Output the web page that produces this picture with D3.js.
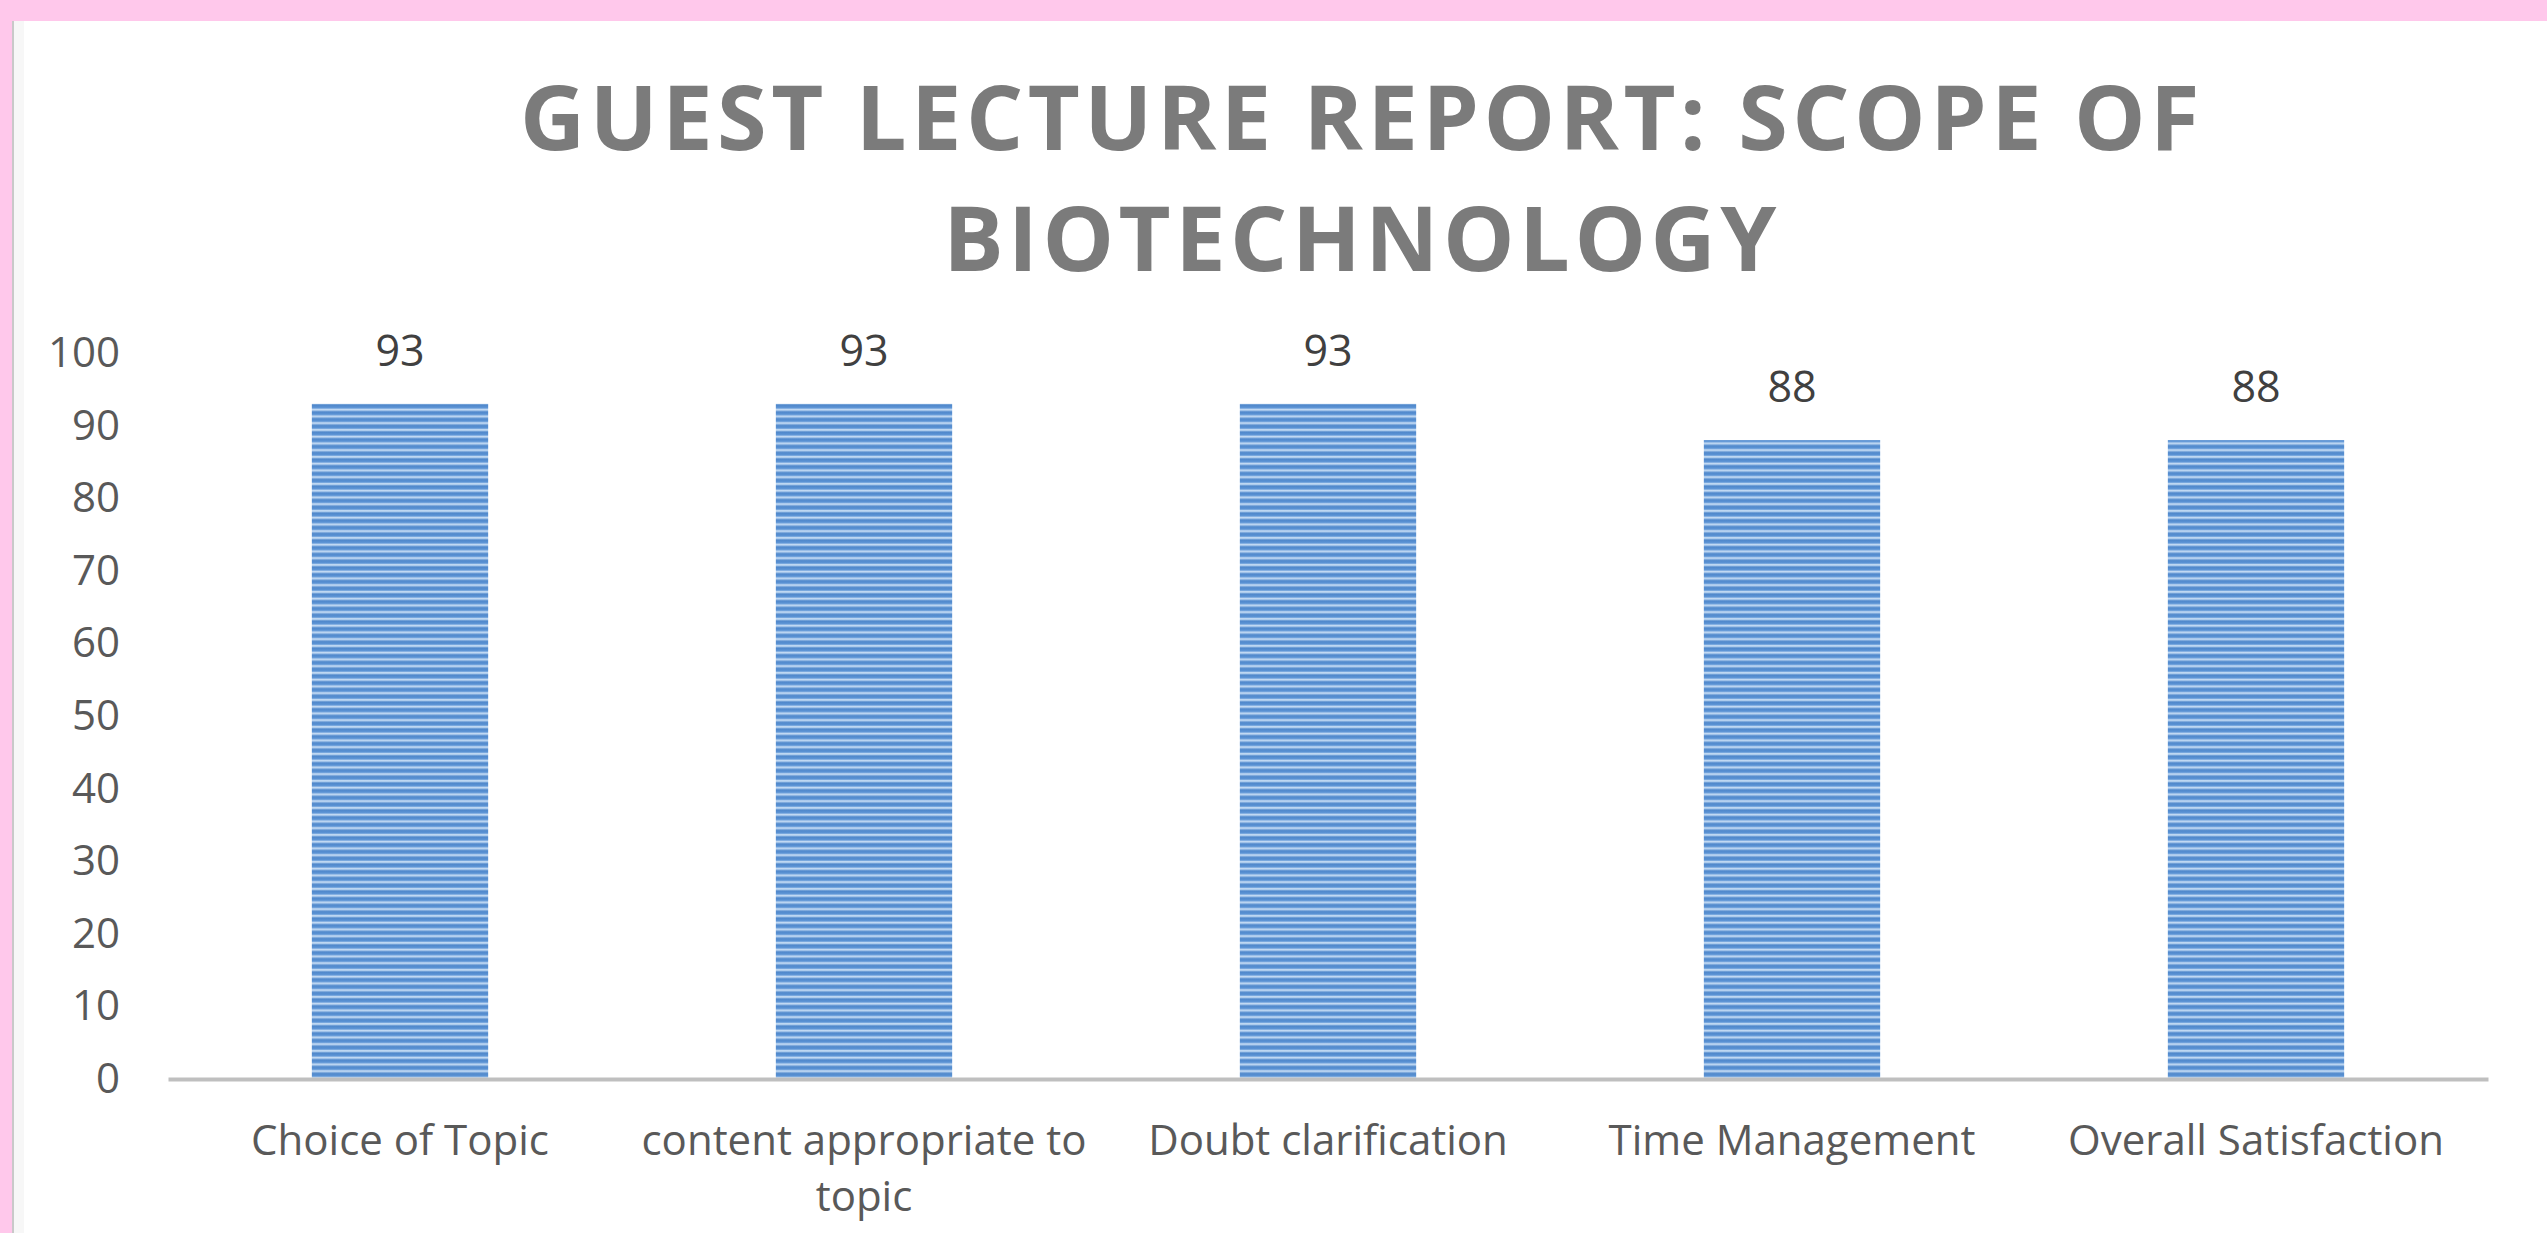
<!DOCTYPE html>
<html>
<head>
<meta charset="utf-8">
<script src="https://cdn.jsdelivr.net/npm/d3@7"></script>
<style>
  body { margin: 0; background: #ffffff; overflow: hidden; }
  svg { display: block; }
</style>
</head>
<body>
<div id="chart"></div>
<script>
const categories = ["Choice of Topic", "content appropriate to topic", "Doubt clarification", "Time Management", "Overall Satisfaction"];
const values = [93, 93, 93, 88, 88];
const yTicks = [0, 10, 20, 30, 40, 50, 60, 70, 80, 90, 100];
const titleLines = ["GUEST LECTURE REPORT: SCOPE OF", "BIOTECHNOLOGY"];

const W = 2547, H = 1233;
const plot = { left: 168, right: 2488, top: 353, bottom: 1079 };

const svg = d3.select("#chart")
  .append("svg")
  .attr("width", W)
  .attr("height", H);

// striped fill like the original bars
const defs = svg.append("defs");
const grad = defs.append("linearGradient")
  .attr("id", "stripeGrad")
  .attr("x1", 0).attr("y1", 0).attr("x2", 0).attr("y2", 1);
[["0%", "#4f87cb"], ["45%", "#5d95d6"], ["62%", "#c9def5"], ["80%", "#a9c9ec"], ["100%", "#4f87cb"]]
  .forEach(([o, c]) => grad.append("stop").attr("offset", o).attr("stop-color", c));

defs.append("pattern")
  .attr("id", "stripes")
  .attr("patternUnits", "userSpaceOnUse")
  .attr("width", 40)
  .attr("height", 6.75)
  .append("rect")
  .attr("width", 40)
  .attr("height", 6.75)
  .attr("fill", "url(#stripeGrad)");

// pink frame on top and left
svg.append("rect").attr("x", 0).attr("y", 0).attr("width", W).attr("height", H).attr("fill", "#ffffff");
svg.append("rect").attr("x", 0).attr("y", 0).attr("width", W).attr("height", 21).attr("fill", "#ffc8eb");
svg.append("rect").attr("x", 0).attr("y", 0).attr("width", 12).attr("height", H).attr("fill", "#ffc8eb");
svg.append("rect").attr("x", 12).attr("y", 21).attr("width", 2).attr("height", H - 21).attr("fill", "#c9c9c9");
svg.append("rect").attr("x", 14).attr("y", 21).attr("width", 10).attr("height", H - 21).attr("fill", "#f7f7f7");

// title
svg.append("g")
  .selectAll("text")
  .data(titleLines)
  .join("text")
  .attr("x", 1362)
  .attr("y", (d, i) => 150 + i * 121)
  .attr("text-anchor", "middle")
  .style("font-family", "'Open Sans', sans-serif")
  .style("font-weight", 700)
  .style("font-size", "90px")
  .style("letter-spacing", "4.5px")
  .style("fill", "#7b7b7b")
  .text(d => d);

const x = d3.scaleBand()
  .domain(categories)
  .range([plot.left, plot.right])
  .paddingInner(0.62)
  .paddingOuter(0.31);

const y = d3.scaleLinear()
  .domain([0, 100])
  .range([plot.bottom, plot.top]);

// y axis labels
const yAxis = svg.append("g")
  .attr("transform", `translate(${plot.left},0)`)
  .call(d3.axisLeft(y).tickValues(yTicks).tickSize(0).tickPadding(48));
yAxis.select(".domain").remove();
yAxis.selectAll("text")
  .style("font-family", "'Open Sans', sans-serif")
  .style("font-size", "42px")
  .style("fill", "#595959");

// bars
svg.append("g")
  .selectAll("rect")
  .data(values)
  .join("rect")
  .attr("x", (d, i) => x(categories[i]))
  .attr("y", d => y(d))
  .attr("width", x.bandwidth())
  .attr("height", d => y(0) - y(d))
  .attr("fill", "url(#stripes)");

// value labels
svg.append("g")
  .selectAll("text")
  .data(values)
  .join("text")
  .attr("x", (d, i) => x(categories[i]) + x.bandwidth() / 2)
  .attr("y", d => y(d) - 38)
  .attr("text-anchor", "middle")
  .style("font-family", "'Open Sans', sans-serif")
  .style("font-size", "43px")
  .style("fill", "#404040")
  .text(d => d);

// x axis
const xAxis = svg.append("g")
  .attr("transform", `translate(0,${plot.bottom})`)
  .call(d3.axisBottom(x).tickSize(0).tickPadding(0));
xAxis.select(".domain")
  .attr("stroke", "#bfbfbf")
  .attr("stroke-width", 4);
xAxis.selectAll("text").remove();

// category labels, wrapped to the band step
const step = x.step();
svg.append("g")
  .selectAll("text")
  .data(categories)
  .join("text")
  .attr("x", d => x(d) + x.bandwidth() / 2)
  .attr("y", 1155)
  .attr("text-anchor", "middle")
  .style("font-family", "'Open Sans', sans-serif")
  .style("font-size", "42px")
  .style("fill", "#595959")
  .each(function(d) {
    const t = d3.select(this);
    const words = d.split(" ");
    let line = [];
    let tspan = t.append("tspan").attr("x", t.attr("x")).attr("dy", 0);
    words.forEach(w => {
      line.push(w);
      tspan.text(line.join(" "));
      if (tspan.node().getComputedTextLength() > step - 4 && line.length > 1) {
        line.pop();
        tspan.text(line.join(" "));
        line = [w];
        tspan = t.append("tspan").attr("x", t.attr("x")).attr("dy", 56).text(w);
      }
    });
  });
</script>
</body>
</html>
